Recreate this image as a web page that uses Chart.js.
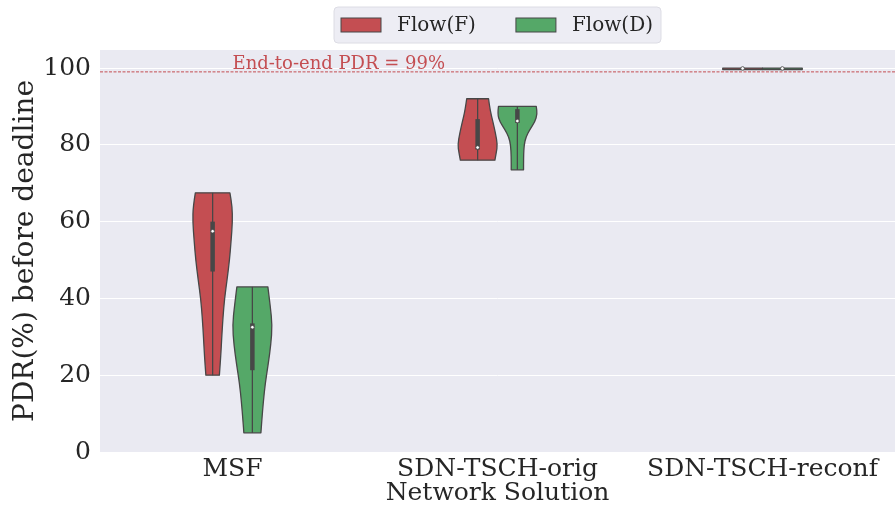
<!DOCTYPE html>
<html>
<head>
<meta charset="utf-8">
<script src="https://cdn.jsdelivr.net/npm/chart.js@4.4.1/dist/chart.umd.min.js"></script>
<style>
  html, body { margin: 0; padding: 0; background: #ffffff; }
  #wrap { width: 895px; height: 518px; }
</style>
</head>
<body>
<div id="wrap"><canvas id="chart" width="895" height="518"></canvas></div>
<script>
// --- Data ---
const categories = ['MSF', 'SDN-TSCH-orig', 'SDN-TSCH-reconf'];
const flows = ['Flow(F)', 'Flow(D)'];
const yTicks = [0, 20, 40, 60, 80, 100];
const pdrTarget = 99;

// violin outlines: PDR levels and relative density width at each level
const msfFLevels = [20, 25, 30, 35, 40, 45, 50, 55, 60, 64, 67.5];
const msfFWidths = [0.34, 0.41, 0.46, 0.52, 0.60, 0.73, 0.85, 0.93, 1.0, 0.98, 0.87];
const msfDLevels = [5, 8, 13, 18, 23, 28, 33, 38, 43];
const msfDWidths = [0.43, 0.47, 0.55, 0.65, 0.80, 0.93, 1.0, 0.90, 0.78];
const origFLevels = [76, 78, 80, 83, 86, 89, 92];
const origFWidths = [0.87, 0.94, 1.0, 0.90, 0.77, 0.63, 0.55];
const origDLevels = [73.5, 77, 80, 82, 84, 86, 88, 90];
const origDWidths = [0.31, 0.31, 0.34, 0.43, 0.63, 0.88, 1.0, 0.95];
const reconfFLevels = [99.6, 100];
const reconfFWidths = [1, 1];
const reconfDLevels = [99.6, 100];
const reconfDWidths = [1, 1];

// inner box: [min, q1, median, q3, max]
const msfFBox = [20, 47, 57.5, 60, 67.5];
const msfDBox = [5, 21.3, 32.5, 33.5, 43];
const origFBox = [76, 78.8, 79.3, 86.7, 92];
const origDBox = [73.5, 85.7, 86.2, 89.3, 90];
const reconfFBox = [99.6, 99.8, 99.9, 99.95, 100];
const reconfDBox = [99.6, 99.8, 99.9, 99.95, 100];

// --- Style ---
const FONT = "'DejaVu Serif', serif";
const flowColors = ['#C44E52', '#55A868'];
const edgeGray = '#474747';
const panelBg = '#EAEAF2';
const hueOffset = 0.075;   // category units
const halfWidth = 0.075;   // category units

const violins = [
  { cat: 0, hue: 0, levels: msfFLevels, widths: msfFWidths, box: msfFBox },
  { cat: 0, hue: 1, levels: msfDLevels, widths: msfDWidths, box: msfDBox },
  { cat: 1, hue: 0, levels: origFLevels, widths: origFWidths, box: origFBox },
  { cat: 1, hue: 1, levels: origDLevels, widths: origDWidths, box: origDBox },
  { cat: 2, hue: 0, levels: reconfFLevels, widths: reconfFWidths, box: reconfFBox },
  { cat: 2, hue: 1, levels: reconfDLevels, widths: reconfDWidths, box: reconfDBox },
];

// smooth path through points using midpoint quadratics
function smoothPath(ctx, pts, start) {
  if (start) ctx.moveTo(pts[0][0], pts[0][1]); else ctx.lineTo(pts[0][0], pts[0][1]);
  for (let i = 1; i < pts.length - 1; i++) {
    const mx = (pts[i][0] + pts[i + 1][0]) / 2, my = (pts[i][1] + pts[i + 1][1]) / 2;
    ctx.quadraticCurveTo(pts[i][0], pts[i][1], mx, my);
  }
  const last = pts[pts.length - 1];
  ctx.lineTo(last[0], last[1]);
}

const panelPlugin = {
  id: 'panel',
  beforeDraw(chart) {
    const { ctx, chartArea: a } = chart;
    ctx.save();
    ctx.fillStyle = panelBg;
    ctx.fillRect(a.left, a.top, a.right - a.left, a.bottom - a.top);
    ctx.restore();
  }
};

const violinPlugin = {
  id: 'violins',
  beforeDatasetsDraw(chart) {
    const { ctx, chartArea: a } = chart;
    const x = chart.scales.x, y = chart.scales.y;
    ctx.save();
    ctx.beginPath();
    ctx.rect(a.left, a.top, a.right - a.left, a.bottom - a.top);
    ctx.clip();

    // target PDR line
    const ty = y.getPixelForValue(pdrTarget);
    ctx.strokeStyle = flowColors[0];
    ctx.lineWidth = 1;
    ctx.setLineDash([3, 1.5]);
    ctx.beginPath();
    ctx.moveTo(a.left, ty);
    ctx.lineTo(a.right, ty);
    ctx.stroke();
    ctx.setLineDash([]);

    violins.forEach(v => {
      const c = v.cat + (v.hue === 0 ? -hueOffset : hueOffset);
      const cx = x.getPixelForValue(c);
      const hw = x.getPixelForValue(c + halfWidth) - cx;
      const right = v.levels.map((l, i) => [cx + hw * v.widths[i], y.getPixelForValue(l)]);
      const left = v.levels.map((l, i) => [cx - hw * v.widths[i], y.getPixelForValue(l)]).reverse();

      ctx.beginPath();
      smoothPath(ctx, right, true);
      smoothPath(ctx, left, false);
      ctx.closePath();
      ctx.fillStyle = flowColors[v.hue];
      ctx.fill();
      ctx.strokeStyle = edgeGray;
      ctx.lineWidth = 1.3;
      ctx.lineJoin = 'round';
      ctx.stroke();

      // whisker, box, median
      const [mn, q1, med, q3, mx] = v.box;
      ctx.lineCap = 'butt';
      ctx.beginPath();
      ctx.moveTo(cx, y.getPixelForValue(mn));
      ctx.lineTo(cx, y.getPixelForValue(mx));
      ctx.lineWidth = 1.3;
      ctx.stroke();
      ctx.beginPath();
      ctx.moveTo(cx, y.getPixelForValue(q1));
      ctx.lineTo(cx, y.getPixelForValue(q3));
      ctx.lineWidth = 4.5;
      ctx.stroke();
      ctx.beginPath();
      ctx.arc(cx, y.getPixelForValue(med), 1.8, 0, Math.PI * 2);
      ctx.fillStyle = '#ffffff';
      ctx.fill();
      ctx.lineWidth = 0.8;
      ctx.stroke();
    });
    ctx.restore();

    // annotation
    ctx.save();
    ctx.font = `18px ${FONT}`;
    ctx.fillStyle = flowColors[0];
    ctx.textBaseline = 'alphabetic';
    ctx.textAlign = 'left';
    ctx.fillText('End-to-end PDR = ' + pdrTarget + '%', x.getPixelForValue(0), y.getPixelForValue(100) + 1);
    ctx.restore();
  },
  afterDraw(chart) {
    // legend box above the panel
    const { ctx, chartArea: a } = chart;
    ctx.save();
    ctx.font = `20px ${FONT}`;
    const patchW = 40, patchH = 14, gapText = 16, gapItem = 40, padL = 7, padR = 8;
    const tw = flows.map(f => ctx.measureText(f).width);
    const total = padL + flows.length * (patchW + gapText) + tw[0] + tw[1] + gapItem + padR;
    const left = (a.left + a.right) / 2 - total / 2;
    const top = 7, h = 36;
    ctx.beginPath();
    ctx.roundRect(left, top, total, h, 4);
    ctx.fillStyle = 'rgba(234,234,242,0.85)';
    ctx.fill();
    ctx.strokeStyle = '#dcdce4';
    ctx.lineWidth = 1;
    ctx.stroke();
    let px = left + padL;
    const midY = top + h / 2;
    flows.forEach((f, i) => {
      ctx.fillStyle = flowColors[i];
      ctx.fillRect(px, midY - patchH / 2, patchW, patchH);
      ctx.strokeStyle = edgeGray;
      ctx.lineWidth = 1;
      ctx.strokeRect(px, midY - patchH / 2, patchW, patchH);
      ctx.fillStyle = '#262626';
      ctx.textBaseline = 'middle';
      ctx.fillText(f, px + patchW + gapText, midY + 1);
      px += patchW + gapText + tw[i] + gapItem;
    });
    ctx.restore();
  }
};

new Chart(document.getElementById('chart'), {
  type: 'bar',
  data: { labels: categories, datasets: [] },
  options: {
    responsive: false,
    animation: false,
    layout: { padding: { top: 50, right: 0, left: 0, bottom: 0 } },
    plugins: { legend: { display: false }, tooltip: { enabled: false } },
    scales: {
      x: {
        offset: true,
        grid: { display: false, drawTicks: false },
        border: { display: false },
        ticks: { color: '#262626', font: { family: FONT, size: 25 }, padding: 2, maxRotation: 0 },
        title: { display: true, text: 'Network Solution', color: '#262626', font: { family: FONT, size: 25 }, padding: { top: 0, bottom: 10 } },
        afterFit(scale) { scale.height = 66; }
      },
      y: {
        min: 0,
        max: 104.7,
        afterBuildTicks(scale) { scale.ticks = yTicks.map(v => ({ value: v })); },
        grid: { color: '#ffffff', lineWidth: 1, drawTicks: false },
        border: { display: false },
        ticks: { color: '#262626', font: { family: FONT, size: 25 }, padding: 9 },
        title: { display: true, text: 'PDR(%) before deadline', color: '#262626', font: { family: FONT, size: 28 }, padding: { top: 9, bottom: 0 } },
        afterFit(scale) { scale.width = 100; }
      }
    }
  },
  plugins: [panelPlugin, violinPlugin]
});
</script>
</body>
</html>
